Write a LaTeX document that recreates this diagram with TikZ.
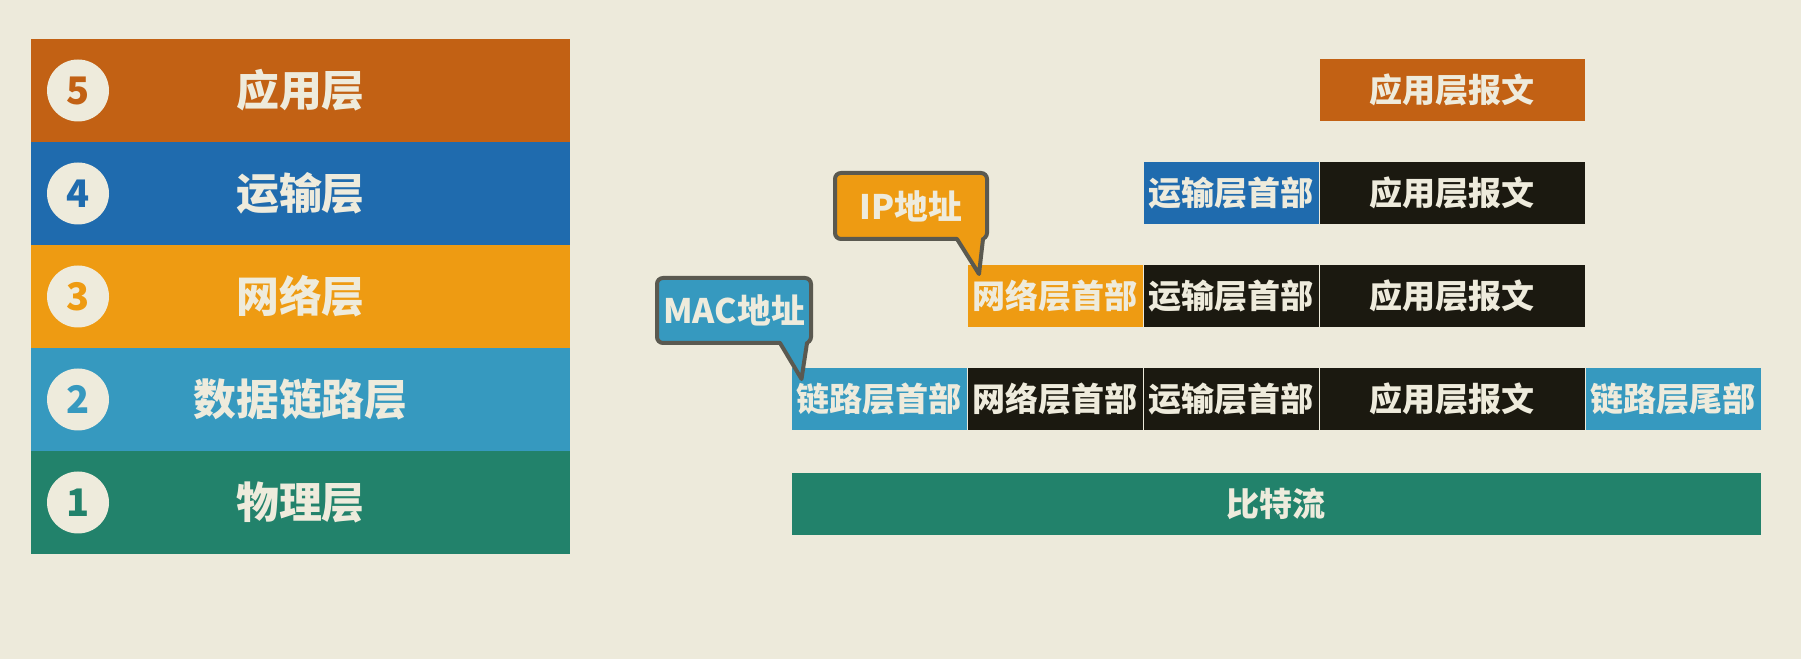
\documentclass[tikz,border=0pt]{standalone}
\usepackage{fontspec}
\setmainfont{Noto Sans CJK SC}
\usetikzlibrary{positioning, calc}
\definecolor{paper}{HTML}{EDEADB}
\definecolor{ink}{HTML}{EEEBDC}
\definecolor{appl}{HTML}{C26114}
\definecolor{trans}{HTML}{1F6BAE}
\definecolor{netw}{HTML}{EE9B12}
\definecolor{link}{HTML}{3699BF}
\definecolor{phys}{HTML}{22826B}
\definecolor{payload}{HTML}{1B1910}
\definecolor{noteline}{HTML}{5A5950}
\tikzset{
  base/.style={inner sep=0pt, outer sep=0pt, text=ink, font=\bfseries},
  stackrow/.style={base, minimum width=5.39cm, minimum height=1.03cm,
                   font=\bfseries\fontsize{12.2pt}{14pt}\selectfont},
  badge/.style={circle, fill=ink, minimum size=0.62cm, inner sep=0pt,
                font=\bfseries\fontsize{10.8pt}{12pt}\selectfont},
  pkt/.style={base, minimum height=0.62cm,
              font=\bfseries\fontsize{9.4pt}{11pt}\selectfont},
  hdr/.style={pkt, minimum width=1.75cm, fill=payload},
  msg/.style={pkt, minimum width=2.65cm, fill=payload},
  bubble/.style={base, draw=noteline, line width=0.04cm,
                 rounded corners=0.06cm, minimum width=1.52cm, minimum height=0.66cm,
                 font=\bfseries\fontsize{9.6pt}{11pt}\selectfont},
  bubbletail/.style={draw=noteline, line width=0.04cm, line cap=round, line join=round},
}

\begin{document}
\begin{tikzpicture}

\fill[paper] (0,0) rectangle (18.01,-6.59);

%% ====================  LAYER STACK  ====================

\node[stackrow, fill=appl] (L5) at (3.005,-0.905) {应用层};
\node[stackrow, fill=trans, below=0pt of L5] (L4) {运输层};
\node[stackrow, fill=netw,  below=0pt of L4] (L3) {网络层};
\node[stackrow, fill=link,  below=0pt of L3] (L2) {数据链路层};
\node[stackrow, fill=phys,  below=0pt of L2] (L1) {物理层};

\node[badge, text=appl]  (B5) at ([xshift=0.47cm]L5.west) {5};
\node[badge, text=trans] (B4) at ([xshift=0.47cm]L4.west) {4};
\node[badge, text=netw]  (B3) at ([xshift=0.47cm]L3.west) {3};
\node[badge, text=link]  (B2) at ([xshift=0.47cm]L2.west) {2};
\node[badge, text=phys]  (B1) at ([xshift=0.47cm]L1.west) {1};

%% ====================  ROW 1: APPLICATION  ====================

\node[msg, fill=appl] (A1) at (14.52,-0.90) {应用层报文};

%% ====================  ROW 2: TRANSPORT  ====================

\node[msg] (A2) at (14.52,-1.93) {应用层报文};
\node[hdr, fill=trans, left=0.01cm of A2] (T2) {运输层首部};

%% ====================  ROW 3: NETWORK  ====================

\node[msg] (A3) at (14.52,-2.96) {应用层报文};
\node[hdr, left=0.01cm of A3] (T3) {运输层首部};
\node[hdr, fill=netw, left=0.01cm of T3] (N3) {网络层首部};

%% ====================  ROW 4: DATA LINK  ====================

\node[msg] (A4) at (14.52,-3.99) {应用层报文};
\node[hdr, left=0.01cm of A4] (T4) {运输层首部};
\node[hdr, left=0.01cm of T4] (N4) {网络层首部};
\node[hdr, fill=link, left=0.01cm of N4] (D4) {链路层首部};
\node[hdr, fill=link, right=0.01cm of A4] (R4) {链路层尾部};

%% ====================  ROW 5: PHYSICAL  ====================

\node[pkt, fill=phys, minimum width=9.69cm,
      below=0.43cm of $(D4.south west)!0.5!(R4.south east)$] (bits) {比特流};

%% ====================  CALLOUTS  ====================

\node[bubble, fill=netw] (ip) at (9.11,-2.06) {IP地址};
\coordinate (iptip) at ([xshift=0.115cm,yshift=-0.09cm]N3.north west);
\fill[netw] ([xshift=-0.30cm,yshift=0.03cm]ip.south east) -- ([xshift=-0.30cm]ip.south east)
  -- (iptip) -- ([xshift=-0.04cm]ip.south east) -- ([xshift=-0.04cm,yshift=0.03cm]ip.south east) -- cycle;
\draw[bubbletail] ([xshift=-0.30cm]ip.south east) -- (iptip) -- ([xshift=-0.04cm]ip.south east);

\node[bubble, fill=link, minimum width=1.54cm, minimum height=0.65cm] (mac) at (7.34,-3.105) {MAC地址};
\coordinate (mactip) at ([xshift=0.10cm,yshift=-0.11cm]D4.north west);
\fill[link] ([xshift=-0.31cm,yshift=0.03cm]mac.south east) -- ([xshift=-0.31cm]mac.south east)
  -- (mactip) -- ([xshift=-0.04cm]mac.south east) -- ([xshift=-0.04cm,yshift=0.03cm]mac.south east) -- cycle;
\draw[bubbletail] ([xshift=-0.31cm]mac.south east) -- (mactip) -- ([xshift=-0.04cm]mac.south east);

\end{tikzpicture}
\end{document}
